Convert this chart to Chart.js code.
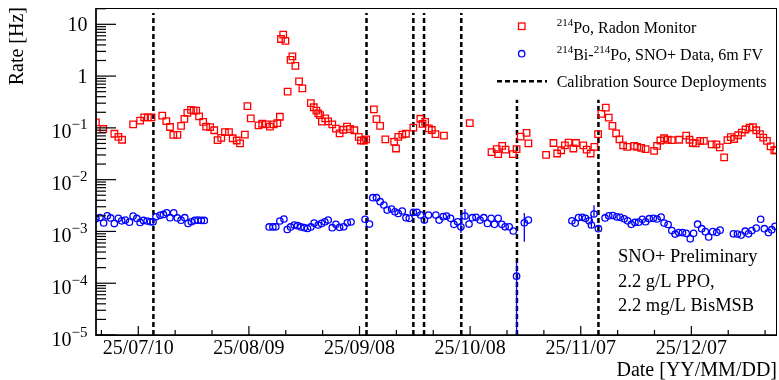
<!DOCTYPE html>
<html>
<head>
<meta charset="utf-8">
<script src="https://cdn.jsdelivr.net/npm/chart.js@4.4.1/dist/chart.umd.min.js"></script>
<style>
  html, body { margin: 0; padding: 0; background: #fff; }
  #wrap { width: 779px; height: 380px; }
</style>
</head>
<body>
<div id="wrap"><canvas id="radonChart" width="779" height="380"></canvas></div>
<script>
// x values are days counted from 2025-07-10 (day 0)
const redDays = [-11.5, -9.5, -6.5, -5.4, -4.4, -1.4, 0.5, 1.6, 2.6, 3.6, 6.5, 7.6, 8.6, 9.5, 10.6, 11.6, 12.5, 13.3, 14.3, 15.0,
  15.7, 16.5, 17.6, 18.4, 19.5, 20.6, 21.5, 22.5, 23.5, 24.6, 25.6, 26.7, 27.6, 28.9, 29.6, 30.5, 32.6, 33.6, 34.6, 35.7,
  36.7, 37.7, 38.4, 38.7, 39.3, 39.9, 40.5, 41.3, 41.8, 42.6, 43.6, 44.5, 46.8, 47.6, 48.3, 48.8, 49.3, 49.8, 50.7, 51.5,
  52.6, 53.6, 54.6, 55.6, 56.6, 57.4, 58.6, 59.8, 60.4, 61.2, 61.8, 63.9, 64.6, 65.6, 67.0, 69.4, 69.9, 70.5, 71.6, 72.6,
  74.6, 76.5, 77.1, 77.8, 78.8, 79.6, 80.6, 82.9, 89.9, 95.8, 97.2, 97.6, 98.7, 99.6, 101.6, 102.6, 103.7, 105.3, 105.8, 110.6,
  112.6, 113.6, 114.7, 115.7, 116.7, 118.0, 118.7, 120.7, 121.6, 122.7, 123.7, 124.7, 125.6, 126.8, 127.6, 128.6, 129.6, 130.5, 131.5, 132.6,
  134.5, 135.3, 136.4, 137.6, 139.9, 140.7, 141.6, 142.6, 143.6, 144.7, 146.7, 148.6, 149.5, 150.4, 151.2, 152.4, 153.4, 155.5, 156.8, 157.7,
  158.9, 159.8, 160.7, 161.6, 162.7, 163.7, 164.7, 165.8, 166.7, 167.6, 168.6, 169.5, 170.5, 171.5, 172.5, 173.0];
const redRates = [0.128, 0.095, 0.077, 0.067, 0.059, 0.117, 0.138, 0.16, 0.16, 0.16, 0.172, 0.135, 0.104, 0.073, 0.073, 0.109, 0.149, 0.194, 0.223, 0.215,
  0.215, 0.167, 0.130, 0.106, 0.103, 0.090, 0.058, 0.064, 0.083, 0.083, 0.063, 0.057, 0.050, 0.074, 0.263, 0.153, 0.112, 0.120, 0.117, 0.106,
  0.117, 0.124, 0.164, 5.2, 6.3, 4.8, 0.50, 2.05, 2.41, 1.58, 0.79, 0.58, 0.30, 0.25, 0.216, 0.19, 0.177, 0.132, 0.153, 0.134,
  0.117, 0.097, 0.078, 0.092, 0.106, 0.095, 0.090, 0.067, 0.057, 0.057, 0.060, 0.228, 0.147, 0.109, 0.060, 0.054, 0.040, 0.067, 0.074, 0.077,
  0.101, 0.150, 0.119, 0.130, 0.098, 0.091, 0.076, 0.071, 0.123, 0.034, 0.039, 0.031, 0.045, 0.038, 0.031, 0.039, 0.068, 0.080, 0.050, 0.030,
  0.051, 0.032, 0.037, 0.046, 0.052, 0.040, 0.051, 0.046, 0.038, 0.032, 0.043, 0.076, 0.187, 0.247, 0.158, 0.109, 0.078, 0.060, 0.046, 0.043,
  0.045, 0.043, 0.041, 0.039, 0.036, 0.045, 0.057, 0.063, 0.059, 0.058, 0.059, 0.071, 0.059, 0.051, 0.050, 0.056, 0.056, 0.048, 0.048, 0.042,
  0.027, 0.058, 0.066, 0.061, 0.072, 0.081, 0.093, 0.101, 0.103, 0.090, 0.076, 0.065, 0.056, 0.044, 0.037, 0.037];

const blueDays = [-11.5, -10.4, -9.4, -8.4, -7.5, -6.5, -5.4, -4.5, -3.5, -2.4, -1.4, -0.4, 0.5, 1.4, 2.4, 3.3, 4.0, 4.8, 5.9, 6.8,
  7.7, 8.6, 9.6, 10.6, 11.6, 12.6, 13.5, 14.4, 15.3, 16.2, 17.1, 17.9, 35.5, 36.5, 37.3, 38.4, 39.5, 40.4, 41.3, 42.3,
  43.2, 44.1, 45.0, 45.9, 46.8, 47.7, 48.8, 49.7, 50.6, 51.5, 52.6, 53.6, 54.6, 55.7, 56.7, 57.7, 61.5, 62.7, 63.6, 64.6,
  65.6, 66.6, 67.5, 68.7, 69.6, 70.5, 71.6, 72.6, 73.5, 74.6, 75.6, 76.6, 77.6, 78.7, 80.7, 81.6, 82.7, 83.6, 84.7, 85.6,
  86.6, 87.5, 88.6, 89.7, 90.6, 91.6, 92.7, 93.7, 94.7, 95.7, 96.6, 97.6, 98.6, 99.5, 100.6, 101.7, 102.6, 104.7, 105.8, 117.6,
  118.5, 119.4, 120.4, 121.3, 122.3, 122.9, 123.6, 124.8, 126.6, 127.6, 128.7, 129.8, 130.7, 131.8, 132.7, 133.7, 134.7, 135.7, 136.7, 137.6,
  138.6, 139.7, 140.7, 141.8, 142.6, 143.7, 144.7, 145.6, 146.6, 147.6, 148.6, 149.7, 150.6, 151.7, 152.8, 153.8, 154.7, 155.8, 156.9, 157.8,
  161.4, 162.5, 163.5, 164.6, 165.5, 166.4, 167.6, 168.8, 169.8, 170.9, 171.8, 172.7];
const blueRates = [0.00176, 0.00186, 0.00146, 0.00200, 0.00182, 0.00142, 0.00179, 0.00160, 0.00166, 0.00151, 0.00198, 0.00178, 0.00149, 0.00163, 0.00159, 0.00153, 0.00153, 0.00192, 0.00205, 0.00213,
  0.00229, 0.00184, 0.00229, 0.00182, 0.00165, 0.00184, 0.00143, 0.00154, 0.00163, 0.00165, 0.00163, 0.00163, 0.00122, 0.00122, 0.00123, 0.00159, 0.00174, 0.00109, 0.00122, 0.00133,
  0.00129, 0.00122, 0.00118, 0.00114, 0.00122, 0.00145, 0.00133, 0.00143, 0.00154, 0.00166, 0.00118, 0.00137, 0.00120, 0.00123, 0.00147, 0.00152, 0.00172, 0.00139, 0.00448, 0.00448,
  0.00375, 0.00324, 0.00259, 0.00271, 0.00240, 0.00223, 0.00248, 0.00184, 0.00179, 0.00234, 0.00234, 0.00207, 0.00166, 0.00207, 0.00207, 0.00166, 0.00193, 0.00198, 0.00179, 0.00137,
  0.00154, 0.00123, 0.00198, 0.00139, 0.00184, 0.00187, 0.00166, 0.00184, 0.00143, 0.00179, 0.00137, 0.00179, 0.00137, 0.00123, 0.00123, 0.00102, 0.000137, 0.00147, 0.00166, 0.00161,
  0.00145, 0.00186, 0.00187, 0.00179, 0.00161, 0.00133, 0.00217, 0.00113, 0.00182, 0.00200, 0.00203, 0.00191, 0.00187, 0.00175, 0.00160, 0.00137, 0.00149, 0.00151, 0.00172, 0.00154,
  0.00176, 0.00179, 0.00174, 0.00190, 0.00145, 0.00136, 0.00104, 0.00089, 0.00095, 0.00095, 0.00092, 0.00072, 0.00092, 0.00138, 0.00113, 0.00099, 0.00078, 0.00099, 0.00096, 0.00106,
  0.00090, 0.00089, 0.00085, 0.00101, 0.00090, 0.00104, 0.00116, 0.00172, 0.00113, 0.00095, 0.00108, 0.00126];

// [day, low, high] for the visible error bars
const blueErrors = [[87.5, 0.00093, 0.00207], [88.6, 0.00175, 0.0027], [102.6, 0.000001, 0.00026],
  [104.7, 0.00063, 0.00227], [122.9, 0.00116, 0.00207], [123.6, 0.0019, 0.0032]];

const calibDays = [4.1, 61.9, 74.6, 77.5, 87.6, 102.7, 124.8];
const calibTops = [16.5, 16.5, 16.5, 16.5, 16.5, 0.35, 0.35];

const xMajorDays = [0, 30, 60, 90, 120, 150];
const xTickLabels = ["25/07/10", "25/08/09", "25/09/08", "25/10/08", "25/11/07", "25/12/07"];
const xMinorDays = [-10, 10, 20, 40, 50, 70, 80, 100, 110, 130, 140, 160, 170];

const yDecades = [1e-5, 1e-4, 1e-3, 1e-2, 1e-1, 1, 10];
const yTickBase = ["10", "10", "10", "10", "10", "1", "10"];
const yTickExp = ["\u22125", "\u22124", "\u22123", "\u22122", "\u22121", "", ""];

const SERIF = "'Liberation Serif', 'Times New Roman', serif";
const RED = "#ff0000";
const BLUE = "#0000ff";

function drawParts(ctx, x, y, parts) {
  parts.forEach(([text, size, rise]) => {
    ctx.font = `${size}px ${SERIF}`;
    ctx.fillText(text, x, y - rise);
    x += ctx.measureText(text).width;
  });
}

const rootStyle = {
  id: "rootStyle",
  afterDatasetsDraw(chart) {
    const { ctx, chartArea: a, scales: { x, y } } = chart;
    ctx.save();
    ctx.beginPath();
    ctx.rect(a.left, a.top, a.right - a.left, a.bottom - a.top);
    ctx.clip();
    ctx.strokeStyle = BLUE;
    ctx.lineWidth = 1.3;
    blueErrors.forEach(([d, lo, hi]) => {
      const px = x.getPixelForValue(d);
      ctx.beginPath();
      ctx.moveTo(px, y.getPixelForValue(Math.max(lo, 1e-6)));
      ctx.lineTo(px, y.getPixelForValue(hi));
      ctx.stroke();
    });
    ctx.restore();
  },
  afterDraw(chart) {
    const { ctx, chartArea: a, scales: { x, y } } = chart;
    ctx.save();
    ctx.strokeStyle = "#000";
    ctx.fillStyle = "#000";

    // frame
    ctx.lineWidth = 1;
    ctx.strokeRect(a.left, a.top + 0.5, a.right - a.left - 0.5, a.bottom - a.top);
    ctx.lineWidth = 1.5;
    ctx.beginPath();
    ctx.moveTo(a.left, a.top);
    ctx.lineTo(a.left, a.bottom);
    ctx.lineTo(a.right, a.bottom);
    ctx.stroke();

    // y ticks
    ctx.lineWidth = 1.2;
    yDecades.forEach(d => {
      const py = y.getPixelForValue(d);
      ctx.beginPath();
      ctx.moveTo(a.left, py);
      ctx.lineTo(a.left + 20, py);
      ctx.stroke();
      for (let m = 2; m <= 9; m++) {
        if (d * m > y.max) break;
        const pm = y.getPixelForValue(d * m);
        ctx.beginPath();
        ctx.moveTo(a.left, pm);
        ctx.lineTo(a.left + 10, pm);
        ctx.stroke();
      }
    });

    // x ticks
    xMajorDays.forEach(d => {
      const px = x.getPixelForValue(d);
      ctx.beginPath();
      ctx.moveTo(px, a.bottom);
      ctx.lineTo(px, a.bottom - 9);
      ctx.stroke();
    });
    xMinorDays.forEach(d => {
      const px = x.getPixelForValue(d);
      ctx.beginPath();
      ctx.moveTo(px, a.bottom);
      ctx.lineTo(px, a.bottom - 5);
      ctx.stroke();
    });

    // y labels
    ctx.textBaseline = "alphabetic";
    ctx.textAlign = "left";
    yDecades.forEach((d, i) => {
      const py = y.getPixelForValue(d);
      const base = yTickBase[i];
      const exp = yTickExp[i];
      ctx.font = `20px ${SERIF}`;
      const wb = ctx.measureText(base).width;
      ctx.font = `15px ${SERIF}`;
      const we = exp ? ctx.measureText(exp).width : 0;
      const left = 87.5 - wb - we;
      if (exp) {
        drawParts(ctx, left, py + 10.5, [[base, 20, 0], [exp, 15, 9]]);
      } else {
        drawParts(ctx, left, py + 6.6, [[base, 20, 0]]);
      }
    });

    // axis titles
    ctx.font = `20px ${SERIF}`;
    ctx.textAlign = "right";
    ctx.fillText("Date [YY/MM/DD]", 777, 376);
    ctx.save();
    ctx.translate(23, 7);
    ctx.rotate(-Math.PI / 2);
    ctx.fillText("Rate [Hz]", 0, 0);
    ctx.restore();

    // annotations
    ctx.textAlign = "left";
    ctx.font = `18.5px ${SERIF}`;
    ctx.fillText("SNO+ Preliminary", 618, 262);
    ctx.fillText("2.2 g/L PPO,", 618, 286.5);
    ctx.fillText("2.2 mg/L BisMSB", 618, 311);

    // legend
    ctx.lineWidth = 1.3;
    ctx.strokeStyle = RED;
    ctx.strokeRect(518.5, 23, 6.5, 6.5);
    ctx.strokeStyle = BLUE;
    ctx.beginPath();
    ctx.arc(521.7, 53.7, 3.2, 0, Math.PI * 2);
    ctx.stroke();
    ctx.strokeStyle = "#000";
    ctx.lineWidth = 2.5;
    ctx.setLineDash([5, 3]);
    ctx.beginPath();
    ctx.moveTo(497, 81.3);
    ctx.lineTo(547, 81.3);
    ctx.stroke();
    ctx.setLineDash([]);

    drawParts(ctx, 556.7, 33, [["214", 11, 7], ["Po, Radon Monitor", 16, 0]]);
    drawParts(ctx, 556.7, 60, [["214", 11, 7], ["Bi-", 16, 0], ["214", 11, 7], ["Po, SNO+ Data, 6m FV", 16, 0]]);
    drawParts(ctx, 556.7, 87.3, [["Calibration Source Deployments", 16, 0]]);

    ctx.restore();
  }
};

const calibSets = calibDays.map((d, i) => ({
  type: "line",
  data: [{ x: d, y: 1e-5 }, { x: d, y: calibTops[i] }],
  borderColor: "#000",
  borderWidth: 2.5,
  borderDash: [5, 3],
  pointRadius: 0,
  fill: false,
  showLine: true
}));

new Chart(document.getElementById("radonChart"), {
  type: "scatter",
  data: {
    datasets: [
      {
        label: "214Po, Radon Monitor",
        data: redDays.map((d, i) => ({ x: d, y: redRates[i] })),
        pointStyle: "rect",
        pointRadius: 4.6,
        borderWidth: 1.3,
        borderColor: RED,
        backgroundColor: "rgba(0,0,0,0)"
      },
      {
        label: "214Bi-214Po, SNO+ Data, 6m FV",
        data: blueDays.map((d, i) => ({ x: d, y: blueRates[i] })),
        pointStyle: "circle",
        pointRadius: 3.2,
        borderWidth: 1.3,
        borderColor: BLUE,
        backgroundColor: "rgba(0,0,0,0)"
      },
      ...calibSets
    ]
  },
  options: {
    responsive: false,
    animation: false,
    layout: { autoPadding: false, padding: { top: 8, right: 2, left: 0, bottom: 0 } },
    plugins: {
      legend: { display: false },
      tooltip: { enabled: false }
    },
    scales: {
      x: {
        type: "linear",
        min: -11.47,
        max: 173.23,
        grid: { display: false, drawTicks: false },
        border: { display: false },
        afterBuildTicks: s => { s.ticks = xMajorDays.map(v => ({ value: v })); },
        afterFit: s => { s.height = 45; },
        ticks: {
          autoSkip: false,
          maxRotation: 0,
          padding: 2,
          color: "#000",
          font: { family: SERIF, size: 20 },
          callback: v => {
            const i = xMajorDays.indexOf(v);
            return i >= 0 ? xTickLabels[i] : "";
          }
        }
      },
      y: {
        type: "logarithmic",
        min: 1e-5,
        max: 20.65,
        grid: { display: false, drawTicks: false },
        border: { display: false },
        ticks: { display: false },
        afterFit: s => { s.width = 96; }
      }
    }
  },
  plugins: [rootStyle]
});
</script>
</body>
</html>
